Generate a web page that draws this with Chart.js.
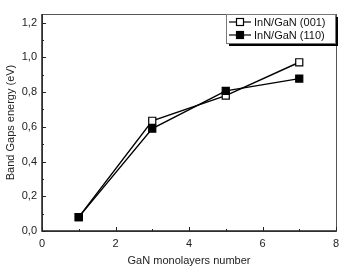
<!doctype html>
<html lang="en">
<head>
    <meta charset="utf-8">
    <title>Band gaps</title>
    <script src="https://cdn.jsdelivr.net/npm/chart.js"></script>
    <style>
        body { margin: 0; background: #fff; }
        #wrap { width: 355px; height: 277px; }
    </style>
</head>
<body>
<div id="wrap"><canvas id="grafico" width="355" height="277"></canvas></div>
<script>
    // dados
    var monocamadas = [1, 3, 5, 7];
    var gap001 = [0.08, 0.635, 0.78, 0.972];
    var gap110 = [0.08, 0.59, 0.807, 0.878];
    var xTicks = [0, 2, 4, 6, 8];
    var xMinor = [1, 3, 5, 7];
    var yTicks = [0, 0.2, 0.4, 0.6, 0.8, 1.0, 1.2];
    var yMinor = [0.1, 0.3, 0.5, 0.7, 0.9, 1.1];

    var fonte = 'Liberation Sans, Arial, sans-serif';

    function virgula(v) {
        return v.toFixed(1).replace('.', ',');
    }

    // moldura + ticks para dentro
    var moldura = {
        id: 'moldura',
        afterDraw: function (chart) {
            var ctx = chart.ctx;
            var a = chart.chartArea;
            var x = chart.scales.x, y = chart.scales.y;
            ctx.save();
            ctx.strokeStyle = '#555';
            ctx.lineWidth = 1;
            ctx.strokeRect(a.left + 0.5, a.top + 0.5, a.right - a.left, a.bottom - a.top);
            ctx.strokeStyle = '#222';
            ctx.lineWidth = 1.5;
            ctx.beginPath();
            ctx.moveTo(a.left, a.top); ctx.lineTo(a.left, a.bottom); ctx.lineTo(a.right, a.bottom);
            ctx.stroke();
            ctx.lineWidth = 1;
            ctx.beginPath();
            xTicks.forEach(function (v) {
                var px = Math.round(x.getPixelForValue(v)) + 0.5;
                ctx.moveTo(px, a.bottom); ctx.lineTo(px, a.bottom - 4);
            });
            xMinor.forEach(function (v) {
                var px = Math.round(x.getPixelForValue(v)) + 0.5;
                ctx.moveTo(px, a.bottom); ctx.lineTo(px, a.bottom - 2);
            });
            yTicks.forEach(function (v) {
                var py = Math.round(y.getPixelForValue(v)) + 0.5;
                ctx.moveTo(a.left, py); ctx.lineTo(a.left + 4, py);
            });
            yMinor.forEach(function (v) {
                var py = Math.round(y.getPixelForValue(v)) + 0.5;
                ctx.moveTo(a.left, py); ctx.lineTo(a.left + 2, py);
            });
            ctx.stroke();

            // legenda com sombra
            var lx = a.right - 110, ly = a.top, lw = 109, lh = 29;
            ctx.fillStyle = '#000';
            ctx.fillRect(lx + 3, ly + 3, lw, lh);
            ctx.fillStyle = '#fff';
            ctx.fillRect(lx, ly, lw, lh);
            ctx.strokeStyle = '#777';
            ctx.strokeRect(lx + 0.5, ly + 0.5, lw, lh);
            chart.data.datasets.forEach(function (ds, i) {
                var cy = ly + 8 + i * 13;
                ctx.strokeStyle = '#000';
                ctx.lineWidth = 1.2;
                ctx.beginPath();
                ctx.moveTo(lx + 3, cy); ctx.lineTo(lx + 25, cy);
                ctx.stroke();
                ctx.fillStyle = ds.pointBackgroundColor;
                ctx.fillRect(lx + 10, cy - 4, 8, 8);
                ctx.strokeRect(lx + 10.5, cy - 3.5, 7, 7);
                ctx.fillStyle = '#111';
                ctx.font = '11px ' + fonte;
                ctx.textBaseline = 'middle';
                ctx.fillText(ds.label, lx + 28, cy + 1);
            });
            ctx.restore();
        }
    };

    var ctx = document.getElementById('grafico');
    new Chart(ctx, {
        type: 'line',
        data: {
            labels: monocamadas,
            datasets: [{
                label: 'InN/GaN (001)',
                order: 1,
                data: monocamadas.map(function (m, i) { return { x: m, y: gap001[i] }; }),
                borderColor: '#000',
                borderWidth: 1.4,
                pointStyle: 'rect',
                pointRadius: 5,
                pointBackgroundColor: '#fff',
                pointBorderColor: '#000',
                pointBorderWidth: 1.2
            }, {
                label: 'InN/GaN (110)',
                order: 0,
                data: monocamadas.map(function (m, i) { return { x: m, y: gap110[i] }; }),
                borderColor: '#000',
                borderWidth: 1.4,
                pointStyle: 'rect',
                pointRadius: 5,
                pointBackgroundColor: '#000',
                pointBorderColor: '#000',
                pointBorderWidth: 1.2
            }]
        },
        options: {
            responsive: false,
            animation: false,
            layout: { padding: { top: 14, right: 19, left: 0, bottom: 0 } },
            plugins: { legend: { display: false }, tooltip: { enabled: false } },
            scales: {
                x: {
                    type: 'linear',
                    min: 0, max: 8,
                    afterBuildTicks: function (s) { s.ticks = xTicks.map(function (v) { return { value: v }; }); },
                    afterFit: function (s) { s.height = 46; },
                    grid: { display: false, drawTicks: false },
                    border: { display: false },
                    ticks: { color: '#222', font: { family: fonte, size: 11 }, padding: 6 },
                    title: { display: true, text: 'GaN monolayers number', color: '#222', font: { family: fonte, size: 11 }, padding: { top: 2, bottom: 9 } }
                },
                y: {
                    min: 0, max: 1.25,
                    afterBuildTicks: function (s) { s.ticks = yTicks.map(function (v) { return { value: v }; }); },
                    afterFit: function (s) { s.width = 42; },
                    grid: { display: false, drawTicks: false },
                    border: { display: false },
                    ticks: { color: '#222', font: { family: fonte, size: 11 }, padding: 5, callback: function (v) { return virgula(v); } },
                    title: { display: true, text: 'Band Gaps energy (eV)', color: '#222', font: { family: fonte, size: 11 }, padding: { bottom: 2 } }
                }
            }
        },
        plugins: [moldura]
    });
</script>
</body>
</html>
